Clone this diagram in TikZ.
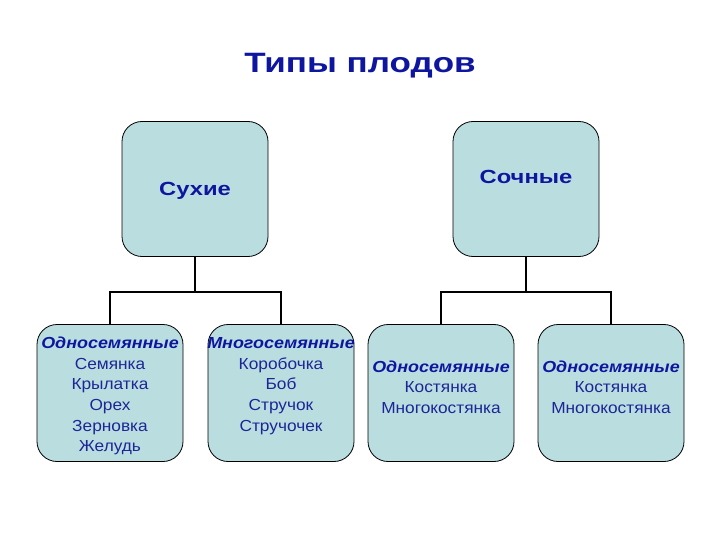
\documentclass[tikz,border=0pt]{standalone}
\usepackage{fontspec}
\setmainfont{Liberation Sans}
\newfontfamily\titlefont[FakeStretch=1.25]{Liberation Sans}
\newfontfamily\subfont[FakeStretch=1.12]{Liberation Sans}
\newfontfamily\itemfont[FakeStretch=1.08]{Liberation Sans}
\definecolor{boxfill}{RGB}{186,222,224}
\definecolor{navy}{RGB}{14,22,160}
\definecolor{itemblue}{RGB}{28,38,150}
\begin{document}
\begin{tikzpicture}[x=1pt,y=-1pt,
  topbox/.style={draw=black,line width=0.8pt,fill=boxfill,rounded corners=20pt,
    minimum width=146pt,minimum height=135pt,inner sep=0pt},
  lowbox/.style={draw=black,line width=0.8pt,fill=boxfill,rounded corners=20pt,
    minimum width=146pt,minimum height=137pt,inner sep=0pt},
  head/.style={text=navy,font=\titlefont\bfseries\fontsize{19}{23}\selectfont,inner sep=0pt},
  items/.style={text=itemblue,align=center,inner sep=0pt,
    font=\itemfont\fontsize{16}{20.7}\selectfont},
  conn/.style={draw=black,line width=1.6pt}]
\useasboundingbox (0,0) rectangle (720,540);
\node[text=navy,font=\titlefont\bfseries\fontsize{28}{32}\selectfont,inner sep=0pt] (title) at (360,66) {Типы плодов};
\node[topbox] (dry) at (195,189) {};
\node[topbox] (juicy) at (526,189) {};
\node[head] (dryt) at (195,191) {Сухие};
\node[head] (juicyt) at (526,177) {Сочные};
\node[lowbox] (b1) at (110,393) {};
\node[lowbox] (b2) at (281,393) {};
\node[lowbox] (b3) at (441,393) {};
\node[lowbox] (b4) at (611,393) {};
\node[items] (t1) at (110,396) {{\subfont\bfseries\itshape\color{navy}Односемянные}\\Семянка\\Крылатка\\Орех\\Зерновка\\Желудь};
\node[items] (t2) at (281,386) {{\subfont\bfseries\itshape\color{navy}Многосемянные}\\Коробочка\\Боб\\Стручок\\Стручочек};
\node[items] (t3) at (441,387) {{\subfont\bfseries\itshape\color{navy}Односемянные}\\Костянка\\Многокостянка};
\node[items] (t4) at (611,387) {{\subfont\bfseries\itshape\color{navy}Односемянные}\\Костянка\\Многокостянка};
\coordinate (dj) at (195,292);
\coordinate (jj) at (526,292);
\draw[conn] (dry.south) -- (dj);
\draw[conn] (b1.north) |- (dj) -| (b2.north);
\draw[conn] (juicy.south) -- (jj);
\draw[conn] (b3.north) |- (jj) -| (b4.north);
\end{tikzpicture}
\end{document}
